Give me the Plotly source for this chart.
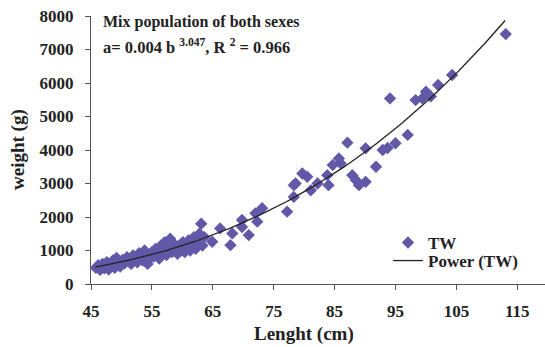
import numpy as np
import plotly.graph_objects as go

length_cm = [45.8, 46.2, 46.5, 46.9, 47.2, 47.6, 47.9, 48.3, 48.6, 48.9,
             49.2, 49.5, 49.8, 50.2, 50.5, 50.9, 51.2, 51.6, 51.9, 52.3,
             52.6, 52.9, 53.2, 53.5, 53.8, 54.1, 54.3, 54.6, 55.0, 55.3,
             55.6, 55.9, 56.2, 56.5, 56.8, 57.1, 57.4, 57.7, 58.0, 58.3,
             58.6, 58.9, 59.2, 59.5, 59.8, 60.1, 60.4, 60.7, 61.0, 61.3,
             61.6, 61.9, 62.2, 62.5, 62.8, 63.1, 63.3, 63.6,
             64.9, 66.2, 67.9, 68.2, 69.8, 69.8, 70.9, 72.0, 72.3, 73.1,
             77.2, 78.3, 78.3, 78.6, 79.7, 80.5, 81.1, 82.2, 84.0, 83.8,
             84.7, 85.7, 86.0, 87.1, 87.9, 88.5, 89.0, 90.1, 90.1, 91.8,
             92.9, 93.7, 95.0, 94.1, 97.0, 98.3, 99.4, 100.0, 100.8, 102.0,
             104.3, 113.1]
weight_g = [480, 560, 420, 600, 470, 650, 430, 560, 700, 480,
            780, 600, 520, 720, 620, 800, 680, 600, 850, 760,
            650, 920, 820, 700, 1000, 880, 600, 760, 950, 820,
            1050, 900, 760, 1150, 980, 1250, 860, 1100, 1350, 950,
            1200, 1050, 900, 1150, 1000, 1250, 950, 1100, 1300, 1000,
            1200, 1400, 1050, 1250, 1500, 1800, 1150, 1400,
            1260, 1660, 1160, 1510, 1910, 1700, 1460, 2110, 1860, 2260,
            2160, 2950, 2600, 3000, 3300, 3200, 2800, 3000, 2950, 3250,
            3550, 3750, 3600, 4220, 3250, 3100, 2950, 3050, 4050, 3500,
            4000, 4060, 4200, 5540, 4450, 5490, 5540, 5740, 5600, 5940,
            6240, 7460]

# Power trendline coefficients (as drawn) and its span
fit_a = 0.00447
fit_b = 3.042
fit_start, fit_end = 45.7, 113.0

x_ticks = [45, 55, 65, 75, 85, 95, 105, 115]
y_ticks = [0, 1000, 2000, 3000, 4000, 5000, 6000, 7000, 8000]

fit_x = np.linspace(fit_start, fit_end, 200)
fit_y = fit_a * fit_x ** fit_b

SERIF = "Liberation Serif, Times New Roman, serif"
MARK = "#6258A8"
INK = "#222222"

fig = go.Figure()
fig.add_trace(go.Scatter(
    x=length_cm, y=weight_g, mode="markers", name="TW", legend="legend",
    marker=dict(symbol="diamond", size=9.5, color=MARK, line=dict(width=0)),
))
fig.add_trace(go.Scatter(
    x=fit_x, y=fit_y, mode="lines", name="Power (TW)", legend="legend2",
    line=dict(color=INK, width=1.3),
))

L, R, T, B = 91, 0, 16, 63
W, H = 545, 347
pw = W - L - R
ph = H - T - B

def px_x(p):
    return (p - L) / pw

def px_y(p):
    return (H - B - p) / ph

axis_font = dict(family=SERIF, size=17, color=INK, weight="bold")
leg_font = dict(family=SERIF, size=17, color=INK, weight="bold")

fig.update_layout(
    width=W, height=H,
    margin=dict(l=L, r=R, t=T, b=B, pad=0),
    paper_bgcolor="white", plot_bgcolor="white",
    showlegend=True,
    legend=dict(
        x=px_x(388), y=px_y(243), xanchor="left", yanchor="middle",
        bgcolor="rgba(0,0,0,0)", borderwidth=0, font=leg_font,
    ),
    legend2=dict(
        x=px_x(388), y=px_y(261), xanchor="left", yanchor="middle",
        bgcolor="rgba(0,0,0,0)", borderwidth=0, font=leg_font,
    ),
    xaxis=dict(
        range=[45, 45 + pw / 6.09], tickvals=x_ticks,
        showline=True, linecolor="#555555", linewidth=1,
        ticks="outside", ticklen=5, tickcolor="#555555",
        showgrid=False, zeroline=False,
        tickfont=axis_font, ticklabelstandoff=7,
    ),
    yaxis=dict(
        range=[0, 8000], tickvals=y_ticks,
        showline=True, linecolor="#555555", linewidth=1,
        ticks="outside", ticklen=5, tickcolor="#555555",
        showgrid=False, zeroline=False,
        tickfont=axis_font, ticklabelstandoff=8,
    ),
    annotations=[
        dict(text="Mix population of both sexes", xref="paper", yref="paper",
             x=px_x(101), y=px_y(22), xanchor="left", yanchor="middle",
             showarrow=False,
             font=dict(family=SERIF, size=16, color=INK, weight="bold")),
        dict(text="a= 0.004 b <sup>3.047</sup>, R <sup>2</sup> = 0.966",
             xref="paper", yref="paper",
             x=px_x(101), y=px_y(47), xanchor="left", yanchor="middle",
             showarrow=False,
             font=dict(family=SERIF, size=16.5, color=INK, weight="bold")),
        dict(text="Lenght (cm)", xref="paper", yref="paper",
             x=px_x(303.5), y=px_y(334), xanchor="center", yanchor="middle",
             showarrow=False,
             font=dict(family=SERIF, size=19, color=INK, weight="bold")),
        dict(text="weight (g)", xref="paper", yref="paper",
             x=px_x(18), y=px_y(150), xanchor="center", yanchor="middle",
             textangle=-90, showarrow=False,
             font=dict(family=SERIF, size=19, color=INK, weight="bold")),
    ],
)

fig.write_html("out.html")
